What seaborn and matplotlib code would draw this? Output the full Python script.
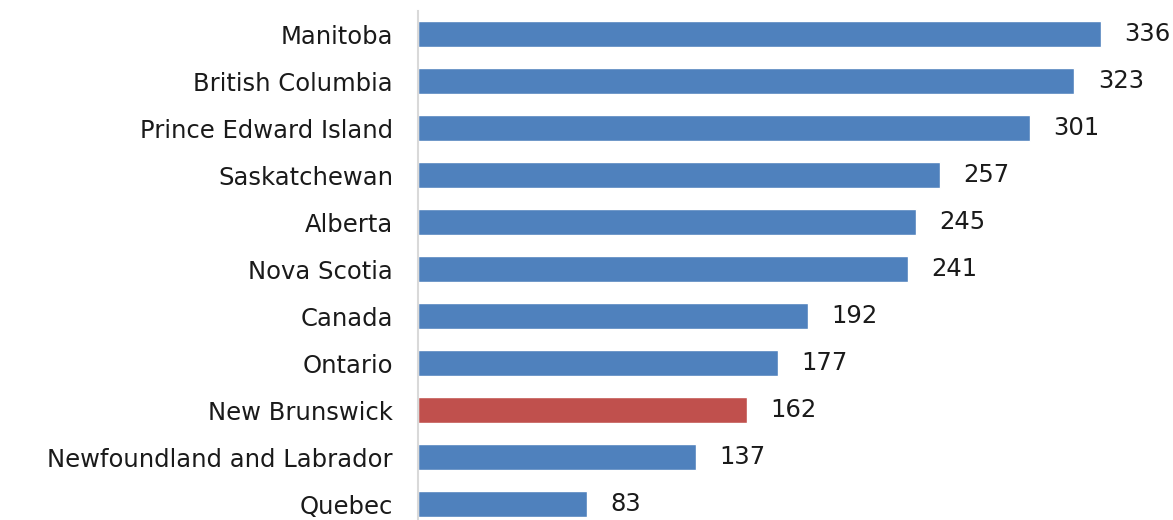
import matplotlib
matplotlib.use("Agg")
import matplotlib.pyplot as plt
import seaborn as sns
import pandas as pd

provinces = ["Manitoba", "British Columbia", "Prince Edward Island", "Saskatchewan",
             "Alberta", "Nova Scotia", "Canada", "Ontario", "New Brunswick",
             "Newfoundland and Labrador", "Quebec"]
values = [336, 323, 301, 257, 245, 241, 192, 177, 162, 137, 83]
highlight = "New Brunswick"

sns.set_theme(style="white")
plt.rcParams['font.family'] = ['DejaVu Sans']

df = pd.DataFrame({"province": provinces, "value": values})
palette = {p: ("#C0504D" if p == highlight else "#4F81BD") for p in provinces}

fig = plt.figure(figsize=(11.73, 5.2), dpi=100)
ax = fig.add_axes([418/1173, 0.0, 1 - 418/1173, 1 - 10.5/520])
sns.barplot(data=df, x="value", y="province", hue="province", palette=palette,
            order=provinces, width=0.57, legend=False, ax=ax, saturation=1)

ax.set_xlim(0, 371.5)
ax.set_ylim(10.34, -0.5)
ax.set_xlabel("")
ax.set_ylabel("")
ax.set_xticks([])
for s in ["top", "right", "bottom"]:
    ax.spines[s].set_visible(False)
ax.spines["left"].set_color("#D9D9D9")
ax.spines["left"].set_linewidth(1.5)
ax.tick_params(axis="y", length=0, pad=18, labelsize=17.5, labelcolor="#1a1a1a")

for i, v in enumerate(values):
    ax.text(v + 11.5, i, str(v), va="center", ha="left", fontsize=17.5, color="#1a1a1a")

fig.savefig("out.png", dpi=100)
